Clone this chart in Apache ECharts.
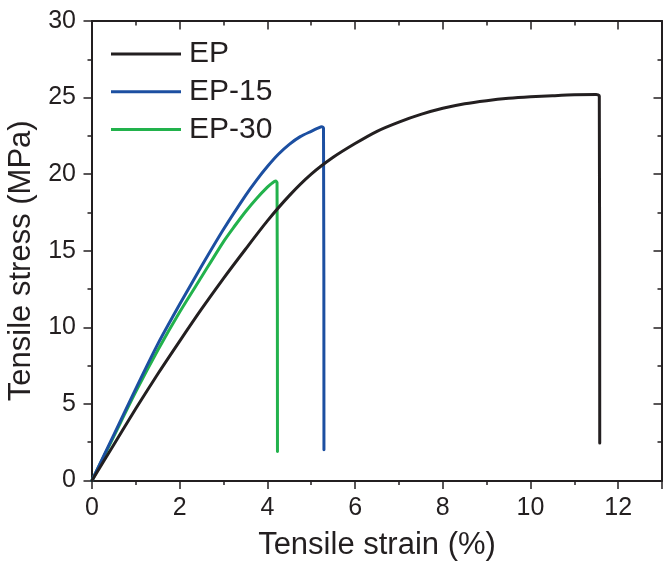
<!DOCTYPE html>
<html>
<head>
<meta charset="utf-8">
<script src="https://cdn.jsdelivr.net/npm/echarts@6/dist/echarts.min.js"></script>
<style>html,body{margin:0;padding:0;background:#fff}#c{width:663px;height:561px}</style>
</head>
<body>
<div id="c"></div>
<script>
// EP (black)
var epStrain = [0, 0.5, 1, 1.5, 2, 2.5, 3, 3.5, 4, 4.5, 5, 5.5, 6, 6.5, 7, 7.5, 8, 8.5, 9, 9.5, 10, 10.5, 11, 11.5, 11.57, 11.58];
var epStress = [0, 2.35, 4.7, 6.95, 9.1, 11.2, 13.2, 15.1, 16.95, 18.6, 20.0, 21.1, 22.0, 22.8, 23.4, 23.9, 24.3, 24.6, 24.8, 24.95, 25.05, 25.12, 25.18, 25.2, 25.1, 2.45];
// EP-15 (blue)
var ep15Strain = [0, 0.5, 1, 1.5, 2, 2.5, 3, 3.5, 3.75, 4, 4.25, 4.5, 4.75, 5, 5.15, 5.24, 5.28, 5.29];
var ep15Stress = [0, 3.0, 6.0, 8.9, 11.5, 14.0, 16.4, 18.6, 19.6, 20.5, 21.3, 21.95, 22.45, 22.8, 23.0, 23.1, 23.0, 2.0];
// EP-30 (green)
var ep30Strain = [0, 0.5, 1, 1.5, 2, 2.5, 3, 3.25, 3.5, 3.75, 4.0, 4.1, 4.19, 4.22, 4.23];
var ep30Stress = [0, 2.9, 5.8, 8.5, 11.0, 13.3, 15.6, 16.6, 17.55, 18.4, 19.15, 19.4, 19.55, 19.45, 1.9];

var seriesNames = ['EP', 'EP-15', 'EP-30'];
var seriesColors = ['#231f20', '#1c4fa1', '#22b24c'];
var xTicks = [0, 2, 4, 6, 8, 10, 12];
var yTicks = [0, 5, 10, 15, 20, 25, 30];

function pairs(xs, ys) { return xs.map(function (x, i) { return [x, ys[i]]; }); }
var allData = [pairs(epStrain, epStress), pairs(ep15Strain, ep15Stress), pairs(ep30Strain, ep30Stress)];

var axisColor = '#231f20';
var font = 'Liberation Sans, Arial, Helvetica, sans-serif';

var chart = echarts.init(document.getElementById('c'), null, {renderer: 'canvas'});
function tickStyle(inside) {
  return {
    axisTick: {show: true, inside: inside, length: 8.5, lineStyle: {color: axisColor, width: 1.5}},
    minorTick: {show: true, splitNumber: 2, length: 4.5, lineStyle: {color: axisColor, width: 1.5}}
  };
}
var baseX = {
  type: 'value', min: 0, max: 13, interval: 2,
  axisLine: {show: true, onZero: false, lineStyle: {color: axisColor, width: 2}},
  splitLine: {show: false}
};
var baseY = {
  type: 'value', min: 0, max: 30, interval: 5,
  axisLine: {show: true, onZero: false, lineStyle: {color: axisColor, width: 2}},
  splitLine: {show: false}
};

chart.setOption({
  animation: false,
  backgroundColor: '#fff',
  grid: {left: 92, top: 21, right: 1, bottom: 80.5, containLabel: false, outerBoundsMode: 'none'},
  legend: {
    orient: 'vertical', left: 111, top: 39, padding: 0,
    itemWidth: 70, itemHeight: 3, itemGap: 7.7, icon: 'rect',
    textStyle: {fontFamily: font, fontSize: 30, color: axisColor, lineHeight: 30, padding: [0, 0, 0, 3]},
    data: seriesNames
  },
  xAxis: [
    Object.assign({}, baseX, tickStyle(false), {
      position: 'bottom',
      name: 'Tensile strain (%)', nameLocation: 'middle', nameGap: 49,
      nameTextStyle: {fontFamily: font, fontSize: 31, color: axisColor},
      axisLabel: {show: true, margin: 15, fontFamily: font, fontSize: 25, color: axisColor,
        formatter: function (v) { return xTicks.indexOf(v) >= 0 ? String(v) : ''; }}
    }),
    Object.assign({}, baseX, tickStyle(true), {
      position: 'top',
      axisLabel: {show: false}
    })
  ],
  yAxis: [
    Object.assign({}, baseY, tickStyle(false), {
      position: 'left',
      name: 'Tensile stress (MPa)', nameLocation: 'middle', nameGap: 50, nameRotate: 90,
      nameTextStyle: {fontFamily: font, fontSize: 31, color: axisColor, padding: [0, 20, 0, 0]},
      axisLabel: {show: true, margin: 16, fontFamily: font, fontSize: 25, color: axisColor,
        formatter: function (v) { return yTicks.indexOf(v) >= 0 ? String(v) : ''; }}
    }),
    Object.assign({}, baseY, tickStyle(true), {
      position: 'right',
      axisLabel: {show: false}
    })
  ],
  series: seriesNames.map(function (n, i) {
    return {
      name: n, type: 'line', xAxisIndex: 0, yAxisIndex: 0,
      data: allData[i], smooth: 0.25, showSymbol: false, symbol: 'none',
      color: seriesColors[i],
      lineStyle: {color: seriesColors[i], width: 3, join: 'round', cap: 'round'},
      z: 3 - i
    };
  })
});
</script>
</body>
</html>
